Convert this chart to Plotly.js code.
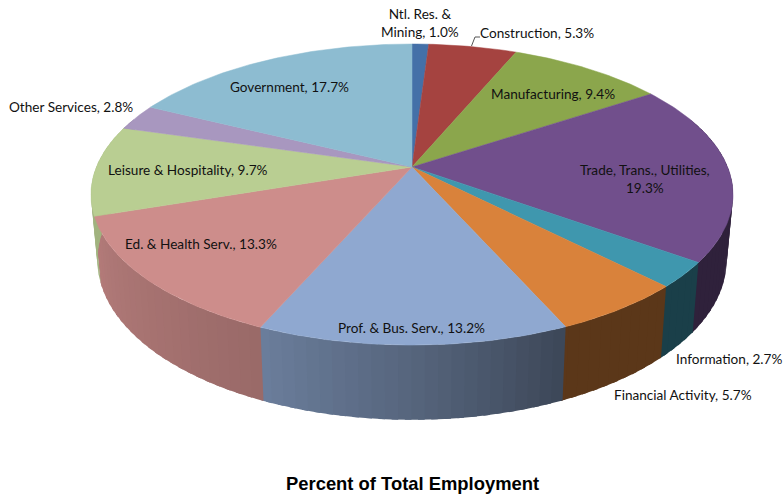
<!DOCTYPE html>
<html>
<head>
<meta charset="utf-8">
<script src="https://cdn.plot.ly/plotly-3.0.1.min.js"></script>
<style>html,body{margin:0;padding:0;background:#fff}#chart{width:784px;height:496px}</style>
</head>
<body>
<div id="chart"></div>
<script>
const categories = ["Ntl. Res. &<br>Mining", "Construction", "Manufacturing", "Trade, Trans., Utilities,<br>", "Information", "Financial Activity", "Prof. & Bus. Serv.", "Ed. & Health Serv.", "Leisure & Hospitality", "Other Services", "Government"];
const shares = [1.0, 5.3, 9.4, 19.3, 2.7, 5.7, 13.2, 13.3, 9.7, 2.8, 17.7];
const sliceColors = ["#4470A8", "#A54340", "#8BA64C", "#714F8C", "#3F97AE", "#D9823B", "#8FA8D0", "#CD8D8B", "#B9CE92", "#A897BF", "#8DBCD1"];
const chartTitle = "Percent of Total Employment";

// Perspective projection of a pie disc onto the page
const CX = 412, CY = 167, A = 315.6, B = 145.5, K = 0.183, H = 64, F = 0.98;
function project(deg, lower) {
  const t = deg * Math.PI / 180, u = Math.sin(t), v = -Math.cos(t), w = 1 - K * v;
  return lower
    ? [CX + A * u * F / w, CY + (B * v * F + H) / w]
    : [CX + A * u / w, CY + B * v / w];
}
function shade(hex, m) {
  const c = [1, 3, 5].map(i => Math.round(parseInt(hex.substr(i, 2), 16) * m));
  return `rgb(${c[0]},${c[1]},${c[2]})`;
}
function brightness(deg) {
  if (deg <= 156) return 0.42;
  if (deg <= 180) return 0.42 + (deg - 156) / 24 * 0.18;
  if (deg <= 204) return 0.60 + (deg - 180) / 24 * 0.15;
  if (deg <= 250) return 0.75 + (deg - 204) / 46 * 0.12;
  return 0.87;
}
function poly(xs, ys, color, lw) {
  return {type: "scatter", mode: "lines", x: xs, y: ys, fill: "toself", fillcolor: color,
          line: {color: color, width: lw}, hoverinfo: "skip", showlegend: false};
}

const total = shares.reduce((a, b) => a + b, 0);
const sideTraces = [], topTraces = [];
let cum = 0;
shares.forEach((s, i) => {
  const a0 = cum / total * 360, a1 = (cum + s) / total * 360;
  cum += s;
  // Rim bands on the near half of the disc; each one runs under the next so no seam shows
  const lo = Math.max(a0, 70), hi = Math.min(a1, 290);
  for (let a = lo; a < hi; a += 2) {
    const mid = Math.min(a + 1, hi), b = Math.min(a + 3, hi + 0.4);
    const pts = [];
    for (const d of [a, mid, b]) pts.push(project(d, false));
    for (const d of [b, mid, a]) pts.push(project(d, true));
    pts.push(pts[0]);
    sideTraces.push(poly(pts.map(q => q[0]), pts.map(q => q[1]),
                         shade(sliceColors[i], brightness(a + 1)), 0));
  }
  // Top face
  const xs = [CX], ys = [CY];
  const n = Math.ceil(a1 - a0);
  for (let k = 0; k <= n; k++) {
    const q = project(a0 + (a1 - a0) * k / n, false);
    xs.push(q[0]); ys.push(q[1]);
  }
  xs.push(CX); ys.push(CY);
  topTraces.push(poly(xs, ys, sliceColors[i], 0.5));
});

const leader = {type: "scatter", mode: "lines", x: [471.5, 475, 480], y: [46, 37, 37],
  line: {color: "#555", width: 1}, hoverinfo: "skip", showlegend: false};

function label(i, x, y) {
  return {text: `${categories[i]}${categories[i].endsWith("<br>") ? "" : ", "}${shares[i].toFixed(1)}%`,
    x: x, y: y, xref: "x", yref: "y", xanchor: "center", yanchor: "middle", showarrow: false, align: "center",
    font: {family: "Lato, sans-serif", size: 13.6, color: "#111"}};
}
const annotations = [
  label(0, 420, 23), label(1, 537, 33), label(2, 553, 94), label(3, 645, 179),
  label(4, 729, 359), label(5, 683, 395), label(6, 411, 328), label(7, 201, 244),
  label(8, 188, 170), label(9, 71, 107), label(10, 289, 87),
  {text: "<b>" + chartTitle + "</b>", x: 412, y: 483, xref: "x", yref: "y", xanchor: "center", yanchor: "middle",
   showarrow: false, font: {family: "Liberation Sans, Arial, sans-serif", size: 18.4, color: "#000"}}
];

Plotly.newPlot("chart", sideTraces.concat(topTraces, [leader]), {
  width: 784, height: 496, margin: {l: 0, r: 0, t: 0, b: 0},
  paper_bgcolor: "#fff", plot_bgcolor: "#fff", showlegend: false,
  xaxis: {range: [0, 784], visible: false, fixedrange: true},
  yaxis: {range: [496, 0], visible: false, fixedrange: true},
  annotations: annotations
}, {displayModeBar: false, staticPlot: true});
</script>
</body>
</html>
